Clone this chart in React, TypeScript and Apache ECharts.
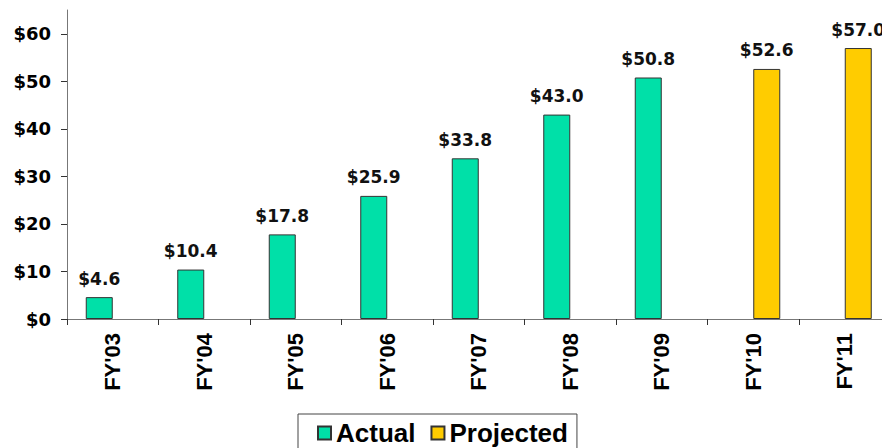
import React, { useEffect, useRef } from "react";
import * as echarts from "echarts";

const categories = ["FY'03", "FY'04", "FY'05", "FY'06", "FY'07", "FY'08", "FY'09", "FY'10", "FY'11"];
const actualValues = [4.6, 10.4, 17.8, 25.9, 33.8, 43.0, 50.8, null, null];
const projectedValues = [null, null, null, null, null, null, null, 52.6, 57.0];
const yTicks = [0, 10, 20, 30, 40, 50, 60];

export default function App() {
  const ref = useRef<HTMLDivElement>(null);
  useEffect(() => {
    if (!ref.current) return;
    const chart = echarts.init(ref.current, null, { renderer: "svg" });
    const labelStyle = {
      show: true,
      position: "top",
      distance: 10,
      fontFamily: "DejaVu Sans",
      fontWeight: "bold",
      fontSize: 17,
      color: "#111",
      formatter: (p: any) => "$" + Number(p.value).toFixed(1),
    };
    chart.setOption({
      animation: false,
      backgroundColor: "#fff",
      grid: { left: 67, top: 10, right: -8.5, bottom: 129, outerBoundsMode: "none", containLabel: false },
      legend: {
        left: 298,
        top: 414,
        padding: [6, 9, 20, 19],
        borderColor: "#444",
        borderWidth: 1,
        itemWidth: 13,
        itemHeight: 13,
        itemGap: 15,
        icon: "rect",
        textStyle: { fontFamily: "Liberation Sans", fontWeight: "bold", fontSize: 26, color: "#000" },
        data: ["Actual", "Projected"],
      },
      xAxis: {
        type: "category",
        data: categories,
        axisLine: { lineStyle: { color: "#777", width: 1 } },
        axisTick: { show: true, alignWithLabel: false, length: 6, lineStyle: { color: "#333" } },
        axisLabel: {
          rotate: 90,
          margin: 14,
          fontFamily: "Liberation Sans",
          fontWeight: "bold",
          fontSize: 22,
          color: "#000",
          interval: 0,
        },
      },
      yAxis: {
        type: "value",
        min: 0,
        max: 65,
        interval: 10,
        splitLine: { show: false },
        axisLine: { show: true, lineStyle: { color: "#777", width: 1 } },
        axisTick: { show: true, length: 6, lineStyle: { color: "#333" }, customValues: yTicks },
        axisLabel: {
          margin: 16,
          fontFamily: "DejaVu Sans",
          fontWeight: "bold",
          fontSize: 18,
          color: "#000",
          customValues: yTicks,
          formatter: (v: number) => "$" + v,
        },
      },
      series: [
        {
          name: "Actual",
          type: "bar",
          data: actualValues,
          barWidth: 27,
          barGap: "0%",
          itemStyle: { color: "#00E0A8", borderColor: "#333", borderWidth: 1 },
          label: labelStyle,
        },
        {
          name: "Projected",
          type: "bar",
          data: projectedValues,
          barWidth: 27,
          barGap: "0%",
          itemStyle: { color: "#FFCC00", borderColor: "#333", borderWidth: 1 },
          label: labelStyle,
        },
      ],
    });
    return () => chart.dispose();
  }, []);
  return (
    <div style={{ position: "absolute", left: 0, top: 0, width: 882, height: 448, overflow: "hidden" }}>
      <div ref={ref} style={{ width: 882, height: 448 }} />
    </div>
  );
}
